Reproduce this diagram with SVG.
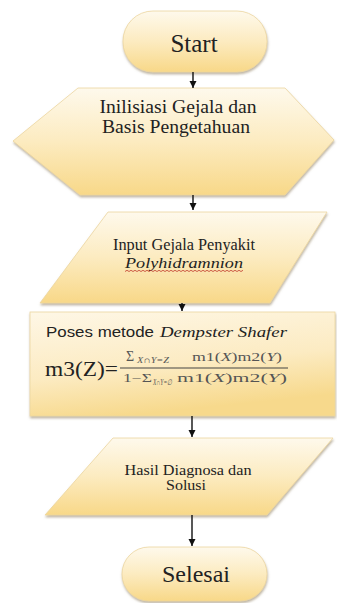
<svg xmlns="http://www.w3.org/2000/svg" width="337" height="603" viewBox="0 0 337 603">
<defs>
<linearGradient id="g" x1="0" y1="0" x2="0" y2="1">
<stop offset="0" stop-color="#fef9ec"/>
<stop offset="0.5" stop-color="#fcebc0"/>
<stop offset="1" stop-color="#f8d888"/>
</linearGradient>
<linearGradient id="gp" x1="0" y1="0" x2="0.3" y2="1">
<stop offset="0" stop-color="#fef7e6"/>
<stop offset="0.6" stop-color="#fcebc2"/>
<stop offset="1" stop-color="#f7d98c"/>
</linearGradient>
<filter id="sh" x="-10%" y="-10%" width="120%" height="130%">
<feDropShadow dx="0.5" dy="2" stdDeviation="1.2" flood-color="#8a7a5a" flood-opacity="0.55"/>
</filter>
<marker id="ah" markerWidth="8" markerHeight="8" refX="7" refY="4" orient="auto" markerUnits="userSpaceOnUse">
<path d="M0,0.5 L7,4 L0,7.5 z" fill="#111"/>
</marker>
</defs>
<style>
.shape{fill:url(#g);stroke:#ecd6a0;stroke-width:0.8;filter:url(#sh)}
.box{fill:url(#gp);stroke:#ecd6a0;stroke-width:0.8;filter:url(#sh)}
.serif{font-family:"Liberation Serif","DejaVu Serif",serif;fill:#222}
.sans{font-family:"Liberation Sans","DejaVu Sans",sans-serif;fill:#222}
.conn{stroke:#111;stroke-width:1.4;fill:none;marker-end:url(#ah)}
.math{font-family:"Liberation Serif","DejaVu Serif",serif;fill:#555}
</style>

<g id="start">
<rect class="shape" x="123" y="11" width="144" height="61" rx="30" ry="30"/>
<text class="serif" x="194" y="52" font-size="25" text-anchor="middle">Start</text>
</g>

<g id="init">
<polygon class="shape" points="78,88 285,88 334,140 285,195 80,195 13,141"/>
<text class="serif" x="178" y="113" font-size="18" text-anchor="middle" textLength="157" lengthAdjust="spacingAndGlyphs">Inilisiasi Gejala dan</text>
<text class="serif" x="176" y="133" font-size="18" text-anchor="middle" textLength="148" lengthAdjust="spacingAndGlyphs">Basis Pengetahuan</text>
</g>

<g id="input">
<polygon class="shape" points="108,212 327,212 270,303 40,303"/>
<text class="serif" x="184" y="250" font-size="16" text-anchor="middle" textLength="142" lengthAdjust="spacingAndGlyphs">Input Gejala Penyakit</text>
<text class="serif" x="184" y="268" font-size="15" font-style="italic" text-anchor="middle" textLength="118" lengthAdjust="spacingAndGlyphs">Polyhidramnion</text>
<path d="M125,271.5 l2,-1.2 l2,1.2 l2,-1.2 l2,1.2 l2,-1.2 l2,1.2 l2,-1.2 l2,1.2 l2,-1.2 l2,1.2 l2,-1.2 l2,1.2 l2,-1.2 l2,1.2 l2,-1.2 l2,1.2 l2,-1.2 l2,1.2 l2,-1.2 l2,1.2 l2,-1.2 l2,1.2 l2,-1.2 l2,1.2 l2,-1.2 l2,1.2 l2,-1.2 l2,1.2 l2,-1.2 l2,1.2 l2,-1.2 l2,1.2 l2,-1.2 l2,1.2 l2,-1.2 l2,1.2 l2,-1.2 l2,1.2 l2,-1.2 l2,1.2 l2,-1.2 l2,1.2 l2,-1.2 l2,1.2 l2,-1.2 l2,1.2 l2,-1.2 l2,1.2 l2,-1.2 l2,1.2 l2,-1.2 l2,1.2 l2,-1.2 l2,1.2 l2,-1.2 l2,1.2 l2,-1.2 l2,1.2 l2,-1.2" fill="none" stroke="#c0392b" stroke-width="0.8"/>
</g>

<g id="process">
<rect class="box" x="30" y="312" width="305" height="104"/>
<text class="sans" x="46" y="337" font-size="14" textLength="108" lengthAdjust="spacingAndGlyphs">Poses metode</text>
<text class="serif" x="160" y="337" font-size="15" font-style="italic" textLength="127" lengthAdjust="spacingAndGlyphs">Dempster Shafer</text>
<text class="serif" x="45" y="376" font-size="21" fill="#333" textLength="73" lengthAdjust="spacingAndGlyphs">m3(Z)=</text>
<line x1="120" y1="368" x2="288" y2="368" stroke="#444" stroke-width="1.2"/>
<text class="math" x="126" y="361" font-size="14">Σ</text>
<text class="math" x="137" y="363" font-size="9" font-style="italic" textLength="32" lengthAdjust="spacingAndGlyphs">X∩Y=Z</text>
<text class="math" x="192" y="361" font-size="12" textLength="90" lengthAdjust="spacingAndGlyphs">m1(<tspan font-style="italic">X</tspan>)m2(<tspan font-style="italic">Y</tspan>)</text>
<text class="math" x="123" y="382" font-size="12" textLength="29" lengthAdjust="spacingAndGlyphs">1−Σ</text>
<text class="math" x="153" y="385" font-size="8" font-style="italic" textLength="19" lengthAdjust="spacingAndGlyphs">X∩Y=∅</text>
<text class="math" x="177" y="382" font-size="12" textLength="110" lengthAdjust="spacingAndGlyphs">m1(<tspan font-style="italic">X</tspan>)m2(<tspan font-style="italic">Y</tspan>)</text>
</g>

<g id="output">
<polygon class="shape" points="113,438 333,438 267,515 45,515"/>
<text class="serif" x="188" y="475" font-size="14" text-anchor="middle" textLength="127" lengthAdjust="spacingAndGlyphs">Hasil Diagnosa dan</text>
<text class="serif" x="186" y="490" font-size="14" text-anchor="middle" textLength="40" lengthAdjust="spacingAndGlyphs">Solusi</text>
</g>

<g id="end">
<rect class="shape" x="122" y="547" width="145" height="54" rx="27" ry="27"/>
<text class="serif" x="196" y="582" font-size="24" text-anchor="middle">Selesai</text>
</g>

<g id="connectors">
<line class="conn" x1="193" y1="72" x2="193" y2="88"/>
<line class="conn" x1="193" y1="195" x2="193" y2="210"/>
<line class="conn" x1="182" y1="303" x2="182" y2="311"/>
<line class="conn" x1="192" y1="416" x2="192" y2="437"/>
<line class="conn" x1="192" y1="515" x2="192" y2="546"/>
</g>
</svg>
